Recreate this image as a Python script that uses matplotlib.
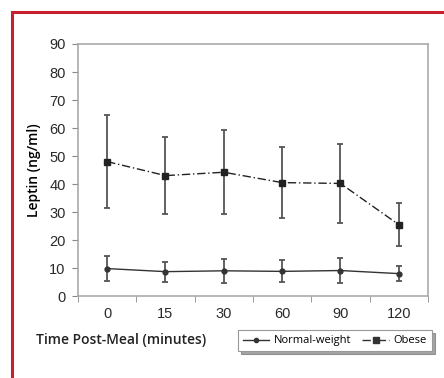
import matplotlib
matplotlib.use("Agg")
import matplotlib.pyplot as plt
from matplotlib.lines import Line2D

# Data
times = ["0", "15", "30", "60", "90", "120"]
normal_mean = [9.8, 8.7, 9.0, 8.8, 9.1, 8.0]
normal_err = [4.5, 3.6, 4.3, 3.9, 4.6, 2.8]
obese_mean = [48.0, 43.0, 44.2, 40.5, 40.2, 25.5]
obese_err = [16.5, 13.8, 15.0, 12.8, 14.0, 7.8]

plt.rcParams['font.family'] = ['Open Sans', 'DejaVu Sans']

fig = plt.figure(figsize=(4.44, 3.78), dpi=100)
ax = fig.add_axes([0.1757, 0.2169, 0.788, 0.6667])

x = list(range(len(times)))
ax.errorbar(x, obese_mean, yerr=obese_err, color='#222222', ecolor='#555555',
            linestyle=(0, (6, 2, 1, 2)), linewidth=1.0, marker='s', markersize=5,
            capsize=2.5, elinewidth=1.3, capthick=1.3, label='Obese')
ax.errorbar(x, normal_mean, yerr=normal_err, color='#333333', ecolor='#555555',
            linestyle='-', linewidth=1.0, marker='o', markersize=3.5,
            capsize=2.5, elinewidth=1.3, capthick=1.3, label='Normal-weight')

ax.set_xlim(-0.5, 5.5)
ax.set_ylim(0, 90)
ax.set_yticks(range(0, 91, 10))
ax.set_xticks(x)
ax.set_xticklabels(times)
ax.set_xticks([i - 0.5 for i in range(7)], minor=True)
ax.tick_params(axis='x', which='major', length=0, pad=8, labelsize=10.5)
ax.tick_params(axis='x', which='minor', length=4, color='#888888', direction='out')
ax.tick_params(axis='y', length=4, color='#888888', labelsize=10.5, pad=5)
for lbl in ax.get_xticklabels() + ax.get_yticklabels():
    lbl.set_family(['Liberation Sans', 'DejaVu Sans'])
    lbl.set_color('#2a2a2a')
for s in ax.spines.values():
    s.set_color('#aaaaaa')
    s.set_linewidth(1.2)

ax.set_ylabel('Leptin (ng/ml)', fontsize=10, fontweight='semibold', labelpad=6)
fig.text(0.08, 0.10, 'Time Post-Meal (minutes)', fontsize=10, fontweight='semibold',
         ha='left', va='center', color='#222222')

handles = [
    Line2D([0], [0], color='#333333', marker='o', markersize=3, linewidth=1.0),
    Line2D([0], [0], color='#333333', marker='s', markersize=4, linewidth=1.0,
           linestyle=(0, (6, 2, 1, 2))),
]
leg = fig.legend(handles, ['Normal-weight', 'Obese'], loc='center',
                 bbox_to_anchor=(0.754, 0.098), ncol=2, fontsize=8,
                 frameon=True, fancybox=False, shadow=True, handlelength=2.4,
                 columnspacing=1.0, handletextpad=0.4, borderpad=0.45)
leg.get_frame().set_edgecolor('#999999')
leg.get_frame().set_linewidth(0.8)

# red frame on the left and top
red = '#c8202f'
fig.add_artist(Line2D([0.027, 0.027], [0.0, 0.968], color=red, linewidth=2.2,
                      transform=fig.transFigure))
fig.add_artist(Line2D([0.027, 1.0], [0.968, 0.968], color=red, linewidth=2.2,
                      transform=fig.transFigure))

fig.savefig('out.png', dpi=100)
